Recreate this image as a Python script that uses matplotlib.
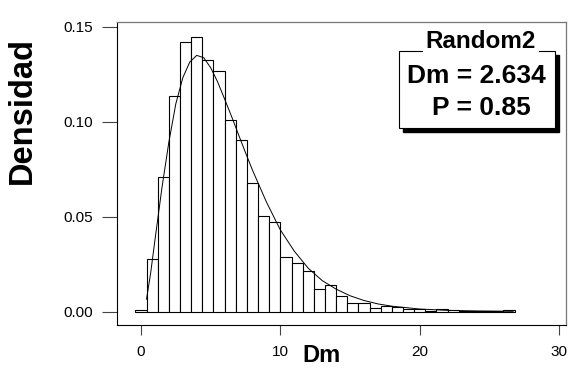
import numpy as np
import matplotlib
matplotlib.use("Agg")
import matplotlib.pyplot as plt
from matplotlib.patches import Rectangle

plt.rcParams['font.family'] = ['Liberation Sans', 'DejaVu Sans']

# ---- data ----
bin_start = -0.4
bin_width = 0.8
hist_density = [0.0008, 0.0275, 0.0711, 0.1138, 0.1423, 0.1449, 0.1326, 0.1270,
                0.1010, 0.0904, 0.0679, 0.0504, 0.0470, 0.0286, 0.0254, 0.0212,
                0.0117, 0.0138, 0.0082, 0.0043, 0.0043, 0.0017, 0.0028, 0.0026,
                0.0012, 0.0012, 0.0005, 0.0012, 0.0008, 0.0003, 0.0002, 0.0002,
                0.0002, 0.0007]

curve_x = [0.4, 0.7, 1.0, 1.5, 2.0, 2.5, 3.0, 3.5, 4.0, 4.5, 5.0, 5.5, 6.0, 6.5,
           7.0, 7.5, 8.0, 9.0, 10.0, 11.0, 12.0, 13.0, 14.0, 15.0, 16.0, 17.0,
           18.0, 20.0, 22.0, 24.0, 26.7]
curve_y = [0.0065, 0.0206, 0.0375, 0.0650, 0.0893, 0.1095, 0.1232, 0.1315, 0.1350,
           0.1338, 0.1285, 0.1210, 0.1120, 0.1028, 0.0932, 0.0837, 0.0745, 0.0577,
           0.0430, 0.0318, 0.0228, 0.0163, 0.0118, 0.0083, 0.0058, 0.0040, 0.0028,
           0.0013, 0.0006, 0.0003, 0.0001]

xticks = [0, 10, 20, 30]
yticks = [0.00, 0.05, 0.10, 0.15]
ytick_labels = ["0.00", "0.05", "0.10", "0.15"]

xlabel = "Dm"
ylabel = "Densidad"
legend_title = "Random2"
legend_lines = ["Dm = 2.634", "P = 0.85"]

# ---- figure ----
W, H = 584, 377
fig = plt.figure(figsize=(W / 100, H / 100), dpi=100)
ax = fig.add_axes([117 / W, 1 - 324.5 / H, (565.7 - 117) / W, (324.5 - 22) / H])

n = len(hist_density)
lefts = bin_start + bin_width * np.arange(n)
ax.bar(lefts, hist_density, width=bin_width, align='edge', color='white',
       edgecolor='black', linewidth=0.8)
ax.plot(curve_x, curve_y, color='black', lw=0.7)

ax.set_xlim(-1.72, 30.47)
ax.set_ylim(-0.00685, 0.1526)

ax.set_xticks(xticks)
ax.set_xticklabels([str(t) for t in xticks])
ax.set_yticks(yticks)
ax.set_yticklabels(ytick_labels)
ax.tick_params(axis='x', length=7.5, width=0.8, color='#444444', pad=7,
               labelsize=11)
ax.tick_params(axis='y', length=11, width=0.8, color='#444444', pad=6,
               labelsize=11)

for s in ['left', 'bottom']:
    ax.spines[s].set_color('black')
    ax.spines[s].set_linewidth(0.8)
for s in ['top', 'right']:
    ax.spines[s].set_color('#777777')
    ax.spines[s].set_linewidth(0.9)

def fx(x):
    return x / W

def fy(y):
    return 1 - y / H

fig.text(fx(22), fy(111), ylabel, rotation=90, ha='center', va='center',
         fontsize=23.5, fontweight='bold')
fig.text(fx(322), fy(356), xlabel, ha='center', va='center',
         fontsize=17, fontweight='bold')

# legend-like box with shadow
bx0, bx1, by0, by1 = 399, 555, 51, 128
off = 4
fig.patches.append(Rectangle((fx(bx0 + off), fy(by1 + off)), (bx1 - bx0) / W,
                             (by1 - by0) / H, transform=fig.transFigure,
                             facecolor='black', edgecolor='black', zorder=5))
fig.patches.append(Rectangle((fx(bx0), fy(by1)), (bx1 - bx0) / W,
                             (by1 - by0) / H, transform=fig.transFigure,
                             facecolor='white', edgecolor='black', lw=0.8,
                             zorder=6))
fig.text(fx(481), fy(41), legend_title, ha='center', va='center',
         fontsize=17.5, fontweight='bold', zorder=7,
         bbox=dict(facecolor='white', edgecolor='none', pad=2))
fig.text(fx(476), fy(76), legend_lines[0], ha='center', va='center',
         fontsize=19, fontweight='bold', zorder=7)
fig.text(fx(481), fy(108), legend_lines[1], ha='center', va='center',
         fontsize=19, fontweight='bold', zorder=7)

fig.savefig("out.png", dpi=100)
